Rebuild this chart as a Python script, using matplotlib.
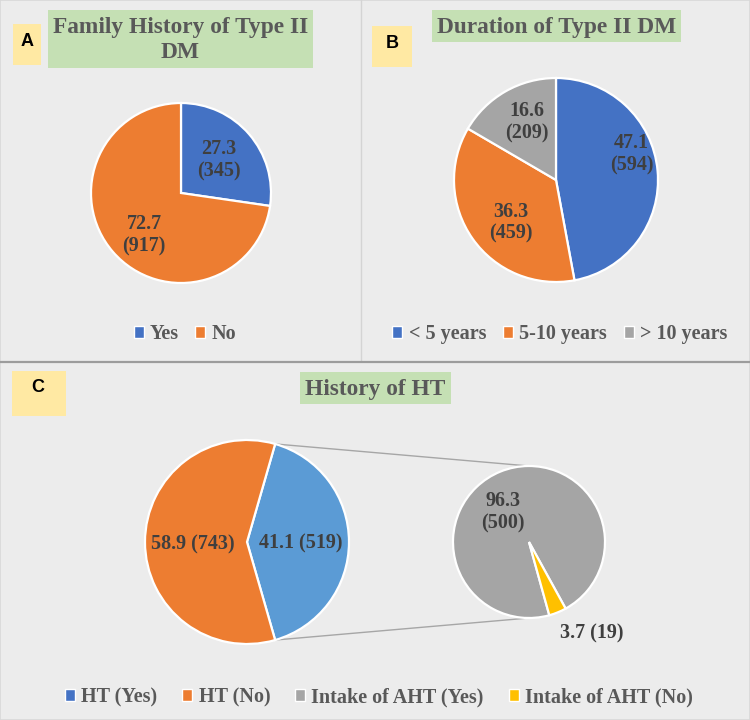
import matplotlib
matplotlib.use("Agg")
import matplotlib.pyplot as plt
from matplotlib.patches import Rectangle, ConnectionPatch
from matplotlib.lines import Line2D
import numpy as np

# ---------------- data ----------------
fam_labels = ["Yes", "No"]
fam_pct = [27.3, 72.7]
fam_n = [345, 917]

dur_labels = ["< 5 years", "5-10 years", "> 10 years"]
dur_pct = [47.1, 36.3, 16.6]
dur_n = [594, 459, 209]

ht_labels = ["HT (Yes)", "HT (No)"]
ht_pct = [41.1, 58.9]
ht_n = [519, 743]

aht_labels = ["Intake of AHT (Yes)", "Intake of AHT (No)"]
aht_pct = [96.3, 3.7]
aht_n = [500, 19]

# ---------------- style ----------------
W, H = 750, 720
BG = "#ECECEC"
BLUE, ORANGE, GRAY, YELLOW, LBLUE = "#4472C4", "#ED7D31", "#A5A5A5", "#FFC000", "#5B9BD5"
TXT = "#3F3F3F"
TTL = "#595959"
SERIF = "Liberation Serif"

fig = plt.figure(figsize=(W / 100, H / 100), dpi=100, facecolor=BG)


def fx(x):
    return x / W


def fy(y):
    return 1 - y / H


def pie_ax(cx, cy, r):
    ax = fig.add_axes([fx(cx - r), fy(cy + r), 2 * r / W, 2 * r / H])
    ax.axis("off")
    return ax


def fix_lim(ax):
    ax.set_xlim(-1, 1)
    ax.set_ylim(-1, 1)


wp = dict(edgecolor="white", linewidth=1.6)
lab_font = dict(fontfamily=SERIF, fontweight="bold", fontsize=14.5, color=TXT,
                ha="center", va="center", linespacing=1.15)

# ---------------- frame lines ----------------
fig.add_artist(Line2D([fx(361), fx(361)], [fy(0), fy(361)], color="#D4D4D4", lw=1))
fig.add_artist(Line2D([0, 1], [fy(361.5), fy(361.5)], color="#9C9C9C", lw=1.6))
fig.add_artist(Rectangle((0, 0), 1, 1, transform=fig.transFigure, fill=False,
                         edgecolor="#D8D8D8", lw=1.2))


def box(x0, y0, x1, y1, color):
    fig.add_artist(Rectangle((fx(x0), fy(y1)), fx(x1 - x0), (y1 - y0) / H,
                             transform=fig.transFigure, facecolor=color, edgecolor="none"))


def title(x0, y0, x1, y1, text):
    box(x0, y0, x1, y1, "#C5E0B4")
    fig.text(fx((x0 + x1) / 2), fy((y0 + y1) / 2 + 1), text, ha="center", va="center",
             fontfamily=SERIF, fontweight="bold", fontsize=16.8, color=TTL, linespacing=1.2)


def panel_label(x0, y0, x1, y1, lx, ly, text):
    box(x0, y0, x1, y1, "#FFE9A3")
    fig.text(fx(lx), fy(ly), text, ha="center", va="center",
             fontfamily="Liberation Sans", fontweight="bold", fontsize=13, color="black")


def legend(labels, colors, cx, cy, colsp):
    handles = [Rectangle((0, 0), 1, 1, facecolor=c, edgecolor="white", lw=1) for c in colors]
    fig.legend(handles, labels, loc="center", bbox_to_anchor=(fx(cx), fy(cy)),
               ncol=len(labels), frameon=False,
               prop=dict(family=SERIF, weight="bold", size=14.5), labelcolor=TTL,
               handlelength=0.5, handleheight=0.5, handletextpad=0.3,
               columnspacing=colsp, borderpad=0)


# ---------------- Panel A ----------------
title(48, 10, 313, 68, "Family History of Type II\nDM")
panel_label(13, 24, 41, 65, 27, 42, "A")
axA = pie_ax(181, 193, 90)
axA.pie(fam_pct, colors=[BLUE, ORANGE], startangle=90, counterclock=False,
        wedgeprops=wp, radius=1)
fix_lim(axA)
posA = [(0.42, 0.36), (-0.41, -0.47)]
for (x, y), p, n in zip(posA, fam_pct, fam_n):
    axA.text(x, y, f"{p}\n({n})", **lab_font)
legend(fam_labels, [BLUE, ORANGE], 185, 334, 0.8)

# ---------------- Panel B ----------------
title(432, 10, 681, 42, "Duration of Type II DM")
panel_label(372, 26, 412, 67, 392, 43, "B")
axB = pie_ax(556, 180, 102)
axB.pie(dur_pct, colors=[BLUE, ORANGE, GRAY], startangle=90, counterclock=False,
        wedgeprops=wp, radius=1)
fix_lim(axB)
posB = [(0.74, 0.25), (-0.44, -0.42), (-0.29, 0.57)]
for (x, y), p, n in zip(posB, dur_pct, dur_n):
    axB.text(x, y, f"{p}\n({n})", **lab_font)
legend(dur_labels, [BLUE, ORANGE, GRAY], 560, 334, 0.85)

# ---------------- Panel C ----------------
title(300, 372, 451, 404, "History of HT")
panel_label(12, 371, 66, 416, 38, 388, "C")
axC = pie_ax(247, 542, 102)
start_c = ht_pct[0] * 3.6 / 2
wC, _ = axC.pie(ht_pct, colors=[LBLUE, ORANGE], startangle=start_c, counterclock=False,
                wedgeprops=wp, radius=1)
fix_lim(axC)
posC = [(0.53, -0.01), (-0.53, -0.02)]
for (x, y), p, n in zip(posC, ht_pct, ht_n):
    axC.text(x, y, f"{p} ({n})", **lab_font)

axC2 = pie_ax(529, 542, 76)
axC2.pie(aht_pct, colors=[GRAY, YELLOW], startangle=-74.5, counterclock=False,
         wedgeprops=wp, radius=1)
fix_lim(axC2)
axC2.text(-0.34, 0.39, f"{aht_pct[0]}\n({aht_n[0]})", **lab_font)
t = dict(lab_font)
t["clip_on"] = False
axC2.text(0.82, -1.21, f"{aht_pct[1]} ({aht_n[1]})", **t)

blue = wC[0]
for th, yy in [(max(blue.theta1, blue.theta2), 1), (min(blue.theta1, blue.theta2), -1)]:
    xa, ya = np.cos(np.radians(th)), np.sin(np.radians(th))
    con = ConnectionPatch(xyA=(xa, ya), coordsA=axC.transData,
                          xyB=(0, yy), coordsB=axC2.transData,
                          color="#A6A6A6", lw=1.0, zorder=0)
    fig.add_artist(con)

legend(ht_labels + aht_labels, [BLUE, ORANGE, GRAY, YELLOW], 379, 697, 1.25)

fig.savefig("out.png", dpi=100, facecolor=BG)
